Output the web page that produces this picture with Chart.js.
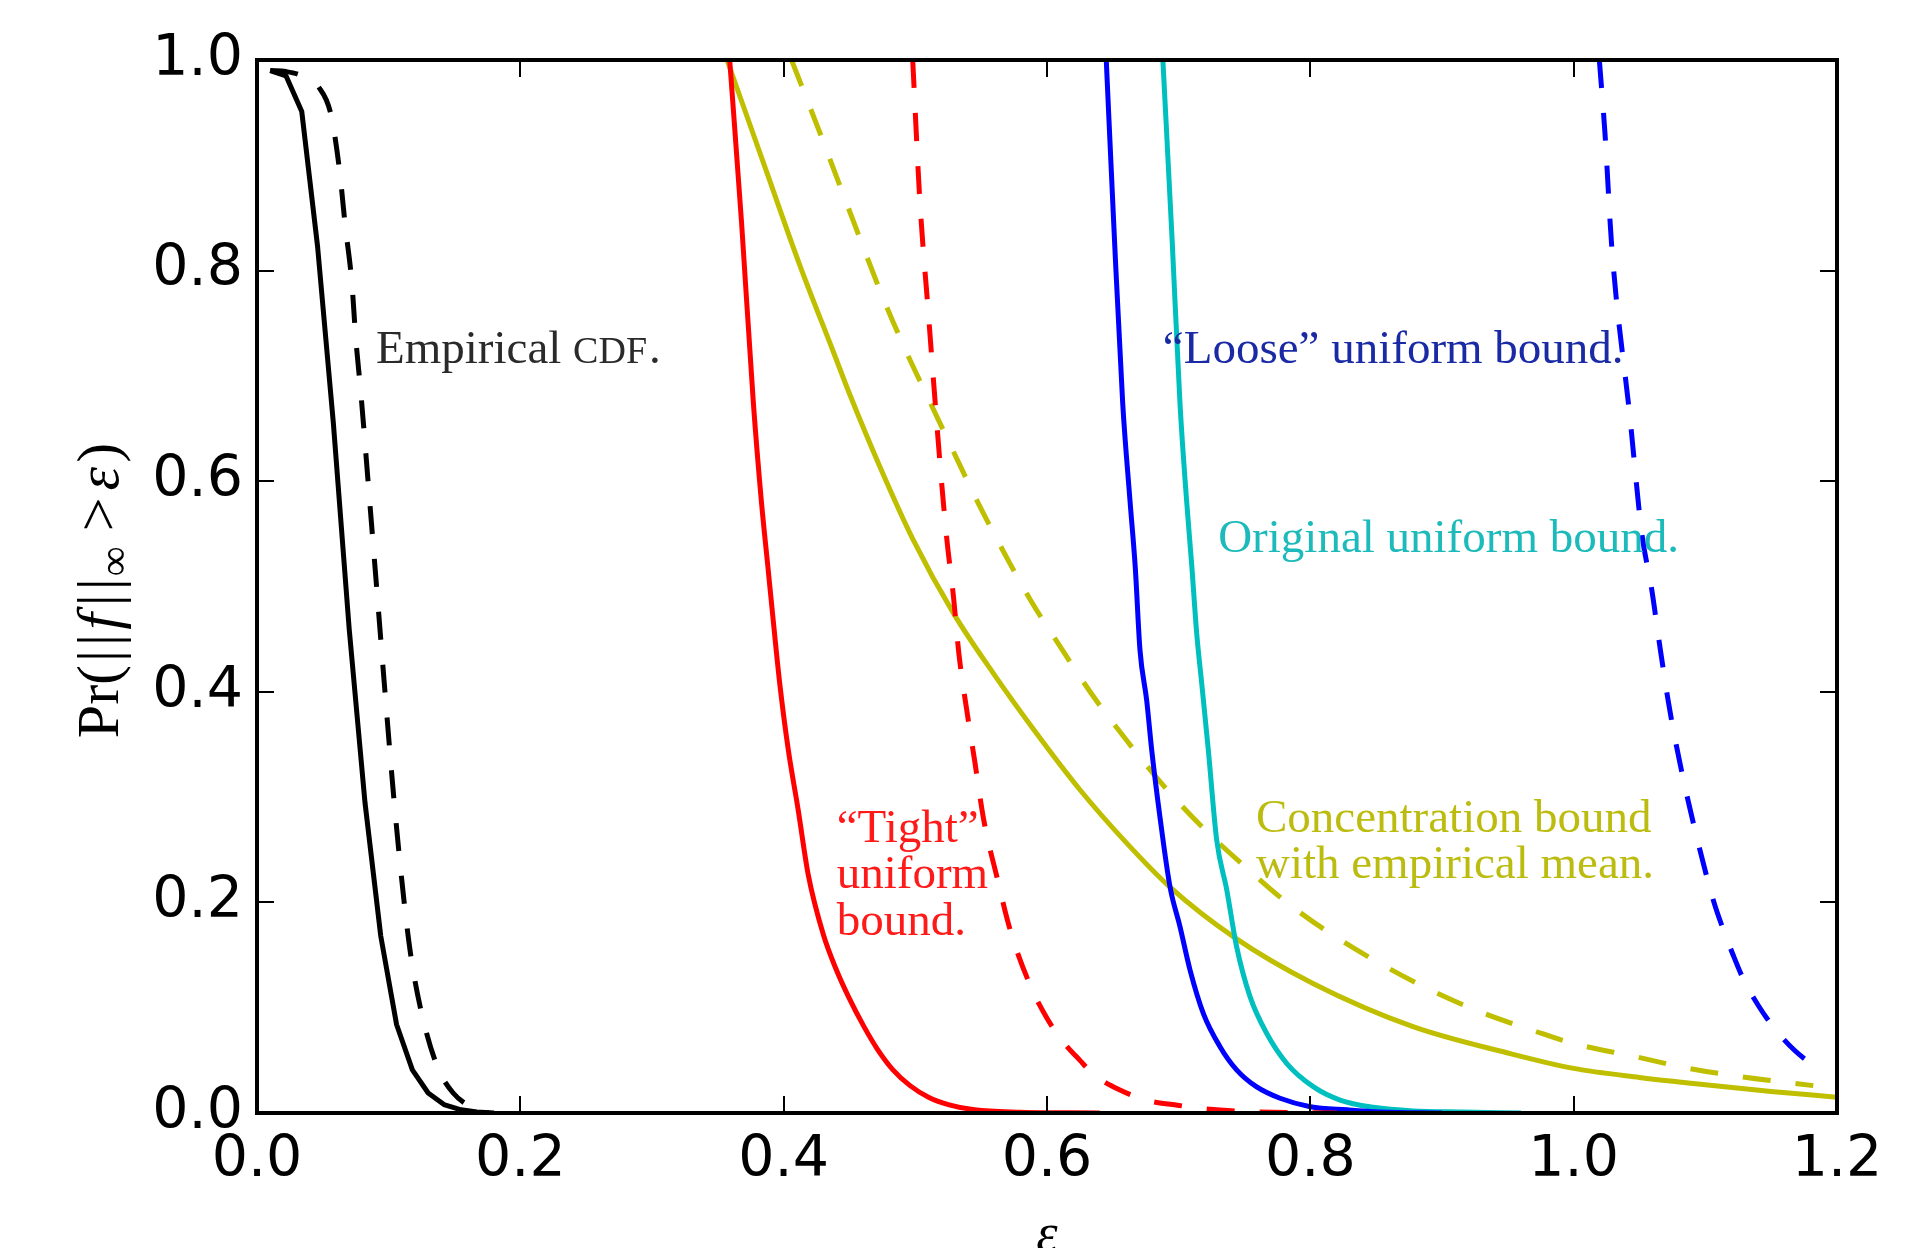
<!DOCTYPE html>
<html>
<head>
  <title>Tail bounds</title>
  <script src="https://cdn.jsdelivr.net/npm/chart.js"></script>
  <style>
    body { margin: 0; background: #fff; }
    #chart { display: block; }
  </style>
</head>
<body>
  <canvas id="chart" width="1929" height="1248"></canvas>

  <script>
    // Tick values
    const xTicks = [0.0, 0.2, 0.4, 0.6, 0.8, 1.0, 1.2];
    const yTicks = [0.0, 0.2, 0.4, 0.6, 0.8, 1.0];

    // Empirical CDF, solid and dashed (black)
    const empX = [0.010, 0.022, 0.034, 0.046, 0.058, 0.070, 0.082, 0.094, 0.106, 0.118, 0.130, 0.142, 0.155, 0.167, 0.180];
    const empY = [0.990, 0.985, 0.951, 0.823, 0.655, 0.46, 0.295, 0.168, 0.084, 0.041, 0.019, 0.008, 0.003, 0.001, 0.0];
    const empDashX = [0.010, 0.022, 0.034, 0.047, 0.056, 0.0625, 0.067, 0.072, 0.075, 0.079, 0.085, 0.091, 0.097, 0.104, 0.1116, 0.117, 0.125, 0.137, 0.149, 0.164, 0.176];
    const empDashY = [0.990, 0.989, 0.985, 0.974, 0.949, 0.897, 0.843, 0.789, 0.736, 0.682, 0.59, 0.497, 0.403, 0.298, 0.202, 0.148, 0.095, 0.044, 0.019, 0.005, 0.0];

    // "Tight" uniform bound (red)
    const tightX = [0.359, 0.368, 0.377, 0.383, 0.388, 0.393, 0.397, 0.4035, 0.411, 0.4187, 0.430, 0.440, 0.449, 0.461, 0.471, 0.483, 0.496, 0.510, 0.525, 0.545, 0.58, 0.64];
    const tightY = [1.0, 0.846, 0.674, 0.582, 0.519, 0.456, 0.408, 0.345, 0.288, 0.226, 0.170, 0.136, 0.111, 0.082, 0.061, 0.041, 0.026, 0.015, 0.008, 0.003, 0.0008, 0.0];
    const tightDashX = [0.498, 0.5035, 0.510, 0.515, 0.520, 0.524, 0.529, 0.533, 0.539, 0.545, 0.552, 0.562, 0.572, 0.587, 0.600, 0.612, 0.625, 0.636, 0.655, 0.676, 0.698, 0.72, 0.76, 0.82];
    const tightDashY = [1.0, 0.865, 0.758, 0.676, 0.598, 0.544, 0.490, 0.437, 0.383, 0.335, 0.278, 0.224, 0.174, 0.122, 0.09, 0.068, 0.050, 0.036, 0.022, 0.012, 0.0076, 0.004, 0.001, 0.0];

    // "Loose" uniform bound (blue)
    const looseX = [0.645, 0.651, 0.6575, 0.663, 0.667, 0.6706, 0.6757, 0.6795, 0.6858, 0.6934, 0.701, 0.7086, 0.7187, 0.7314, 0.744, 0.759, 0.777, 0.800, 0.828, 0.853, 0.90];
    const looseY = [1.0, 0.836, 0.674, 0.582, 0.519, 0.44, 0.392, 0.345, 0.281, 0.215, 0.177, 0.136, 0.0947, 0.063, 0.041, 0.025, 0.014, 0.006, 0.003, 0.001, 0.0];
    const looseDashX = [1.0195, 1.0238, 1.0289, 1.0428, 1.0517, 1.0593, 1.0656, 1.072, 1.0783, 1.09, 1.1064, 1.1134, 1.1205, 1.1293, 1.140, 1.1524, 1.1675, 1.183];
    const looseDashY = [1.0, 0.930, 0.823, 0.66, 0.551, 0.497, 0.442, 0.39, 0.347, 0.28, 0.2007, 0.175, 0.152, 0.126, 0.1026, 0.0804, 0.0598, 0.044];

    // Original uniform bound (cyan)
    const origX = [0.688, 0.695, 0.701, 0.706, 0.710, 0.7137, 0.7175, 0.7225, 0.7289, 0.7365, 0.744, 0.7542, 0.7668, 0.782, 0.8022, 0.8225, 0.848, 0.878, 0.916, 0.96];
    const origY = [1.0, 0.83, 0.674, 0.582, 0.519, 0.4555, 0.408, 0.345, 0.259, 0.212, 0.158, 0.1105, 0.0757, 0.0472, 0.025, 0.0123, 0.0054, 0.002, 0.001, 0.0];

    // Concentration bound with empirical mean (olive)
    const concX = [0.357, 0.387, 0.412, 0.438, 0.450, 0.473, 0.4985, 0.529, 0.559, 0.590, 0.625, 0.660, 0.693, 0.742, 0.802, 0.878, 0.95, 1.0, 1.05, 1.1, 1.15, 1.2];
    const concY = [1.0, 0.894, 0.806, 0.722, 0.683, 0.614, 0.544, 0.4745, 0.418, 0.364, 0.307, 0.257, 0.215, 0.167, 0.123, 0.082, 0.057, 0.0424, 0.0338, 0.0268, 0.0205, 0.015];
    const concDashX = [0.406, 0.429, 0.452, 0.475, 0.492, 0.511, 0.529, 0.547, 0.567, 0.588, 0.611, 0.635, 0.661, 0.687, 0.7175, 0.749, 0.781, 0.817, 0.853, 0.891, 0.931, 0.97, 1.0, 1.045, 1.087, 1.13, 1.182];
    const concDashY = [1.0, 0.926, 0.850, 0.7755, 0.726, 0.6755, 0.628, 0.581, 0.533, 0.486, 0.441, 0.396, 0.353, 0.313, 0.272, 0.2355, 0.201, 0.169, 0.142, 0.117, 0.095, 0.078, 0.066, 0.054, 0.0425, 0.034, 0.026];

    function pts(xs, ys) {
      return xs.map((v, i) => ({ x: v, y: ys[i] }));
    }

    // line styles
    const series = [
      { xs: empX, ys: empY, color: '#000000', dashed: false, smooth: false },
      { xs: empDashX, ys: empDashY, color: '#000000', dashed: true, smooth: true },
      { xs: tightX, ys: tightY, color: '#ff0000', dashed: false, smooth: true },
      { xs: tightDashX, ys: tightDashY, color: '#ff0000', dashed: true, smooth: true },
      { xs: looseX, ys: looseY, color: '#0000ff', dashed: false, smooth: true },
      { xs: looseDashX, ys: looseDashY, color: '#0000ff', dashed: true, smooth: true },
      { xs: origX, ys: origY, color: '#00bfbf', dashed: false, smooth: true },
      { xs: concX, ys: concY, color: '#bfbf00', dashed: false, smooth: true },
      { xs: concDashX, ys: concDashY, color: '#bfbf00', dashed: true, smooth: true }
    ];

    // text labels placed in data units (x, baseline y)
    const notes = [
      { x: 0.0904, y: 0.712, color: '#2a2a2a', lines: [[{ t: 'Empirical ' }, { t: 'CDF', sc: true }, { t: '.' }]] },
      { x: 0.688, y: 0.712, color: '#1a2aa5', lines: [[{ t: '\u201cLoose\u201d uniform bound.' }]] },
      { x: 0.730, y: 0.533, color: '#1cbaba', lines: [[{ t: 'Original uniform bound.' }]] },
      { x: 0.4403, y: 0.2577, color: '#ff1a1a', lines: [[{ t: '\u201cTight\u201d' }], [{ t: 'uniform' }], [{ t: 'bound.' }]] },
      { x: 0.7587, y: 0.2671, color: '#bcbc10', lines: [[{ t: 'Concentration bound' }], [{ t: 'with empirical mean.' }]] }
    ];

    const SERIF = '"Liberation Serif", "DejaVu Serif", serif';

    // Frame with inward ticks on all four sides
    const framePlugin = {
      id: 'frame',
      afterDatasetsDraw(chart) {
        const { ctx, chartArea: a, scales: { x, y } } = chart;
        ctx.save();
        ctx.strokeStyle = '#000';
        ctx.lineWidth = 2;
        ctx.beginPath();
        xTicks.forEach(v => {
          const px = Math.round(x.getPixelForValue(v));
          ctx.moveTo(px, a.bottom); ctx.lineTo(px, a.bottom - 17);
          ctx.moveTo(px, a.top); ctx.lineTo(px, a.top + 17);
        });
        yTicks.forEach(v => {
          const py = Math.round(y.getPixelForValue(v));
          ctx.moveTo(a.left, py); ctx.lineTo(a.left + 17, py);
          ctx.moveTo(a.right, py); ctx.lineTo(a.right - 17, py);
        });
        ctx.stroke();
        ctx.lineWidth = 4;
        ctx.strokeRect(a.left, a.top, a.right - a.left, a.bottom - a.top);
        ctx.restore();
      }
    };

    // Annotations
    const notesPlugin = {
      id: 'notes',
      afterDatasetsDraw(chart) {
        const { ctx, scales: { x, y } } = chart;
        const size = 47;
        ctx.save();
        ctx.textBaseline = 'alphabetic';
        ctx.textAlign = 'left';
        notes.forEach(n => {
          ctx.fillStyle = n.color;
          let py = y.getPixelForValue(n.y);
          n.lines.forEach(runs => {
            let px = x.getPixelForValue(n.x);
            runs.forEach(r => {
              ctx.font = (r.sc ? Math.round(size * 0.8) : size) + 'px ' + SERIF;
              ctx.fillText(r.t, px, py);
              px += ctx.measureText(r.t).width + (r.sc ? 2 : 0);
            });
            py += 46.5;
          });
        });
        ctx.restore();
      }
    };

    // Axis titles with mixed roman / italic pieces
    const titlePlugin = {
      id: 'titles',
      afterDraw(chart) {
        const { ctx, chartArea: a } = chart;
        const size = 60;
        const pieces = [
          { t: 'Pr', gap: 0 },
          { t: '(', gap: 3 },
          { t: '|', gap: 4 },
          { t: '|', gap: 4 },
          { t: 'f', it: true, gap: 7 },
          { t: '|', gap: 4 },
          { t: '|', gap: 2 },
          { t: '\u221e', scale: 0.7, shift: 10, gap: 15 },
          { t: '>', gap: 7 },
          { t: '\u03b5', it: true, gap: 4 },
          { t: ')', gap: 0 }
        ];
        const fontOf = p => (p.it ? 'italic ' : '') + Math.round(size * (p.scale || 1)) + 'px ' + SERIF;
        ctx.save();
        ctx.fillStyle = '#000';
        ctx.textBaseline = 'alphabetic';
        ctx.textAlign = 'left';
        let total = 0;
        pieces.forEach(p => { ctx.font = fontOf(p); total += ctx.measureText(p.t).width + p.gap; });
        ctx.translate(a.left - 139, (a.top + a.bottom) / 2 + 4);
        ctx.rotate(-Math.PI / 2);
        let px = -total / 2;
        pieces.forEach(p => {
          ctx.font = fontOf(p);
          ctx.fillText(p.t, px, p.shift || 0);
          px += ctx.measureText(p.t).width + p.gap;
        });
        ctx.restore();

        ctx.save();
        ctx.fillStyle = '#000';
        ctx.font = 'italic 54px ' + SERIF;
        ctx.textAlign = 'center';
        ctx.textBaseline = 'alphabetic';
        ctx.fillText('\u03b5', (a.left + a.right) / 2, a.bottom + 138);
        ctx.restore();
      }
    };

    new Chart(document.getElementById('chart'), {
      type: 'scatter',
      data: {
        datasets: series.map(s => ({
          data: pts(s.xs, s.ys),
          showLine: true,
          borderColor: s.color,
          backgroundColor: s.color,
          borderWidth: 5,
          borderDash: s.dashed ? [28, 25] : [],
          borderCapStyle: 'butt',
          borderJoinStyle: 'round',
          pointRadius: 0,
          pointHoverRadius: 0,
          cubicInterpolationMode: s.smooth ? 'monotone' : 'default',
          tension: 0
        }))
      },
      options: {
        responsive: false,
        animation: false,
        events: [],
        layout: { padding: { top: 60, right: 92, left: 0, bottom: 0 } },
        plugins: { legend: { display: false }, tooltip: { enabled: false } },
        scales: {
          x: {
            type: 'linear',
            min: 0,
            max: 1.2,
            afterBuildTicks: s => { s.ticks = xTicks.map(v => ({ value: v })); },
            afterFit: s => { s.height = 135; },
            grid: { display: false, drawTicks: false },
            border: { display: false },
            ticks: {
              padding: 14,
              color: '#000',
              maxRotation: 0,
              font: { size: 57, family: '"DejaVu Sans"' },
              callback: v => v.toFixed(1)
            }
          },
          y: {
            type: 'linear',
            min: 0,
            max: 1.0,
            afterBuildTicks: s => { s.ticks = yTicks.map(v => ({ value: v })); },
            afterFit: s => { s.width = 257; },
            grid: { display: false, drawTicks: false },
            border: { display: false },
            ticks: {
              padding: 14,
              color: '#000',
              font: { size: 57, family: '"DejaVu Sans"' },
              callback: v => v.toFixed(1)
            }
          }
        }
      },
      plugins: [framePlugin, notesPlugin, titlePlugin]
    });
  </script>
</body>
</html>
